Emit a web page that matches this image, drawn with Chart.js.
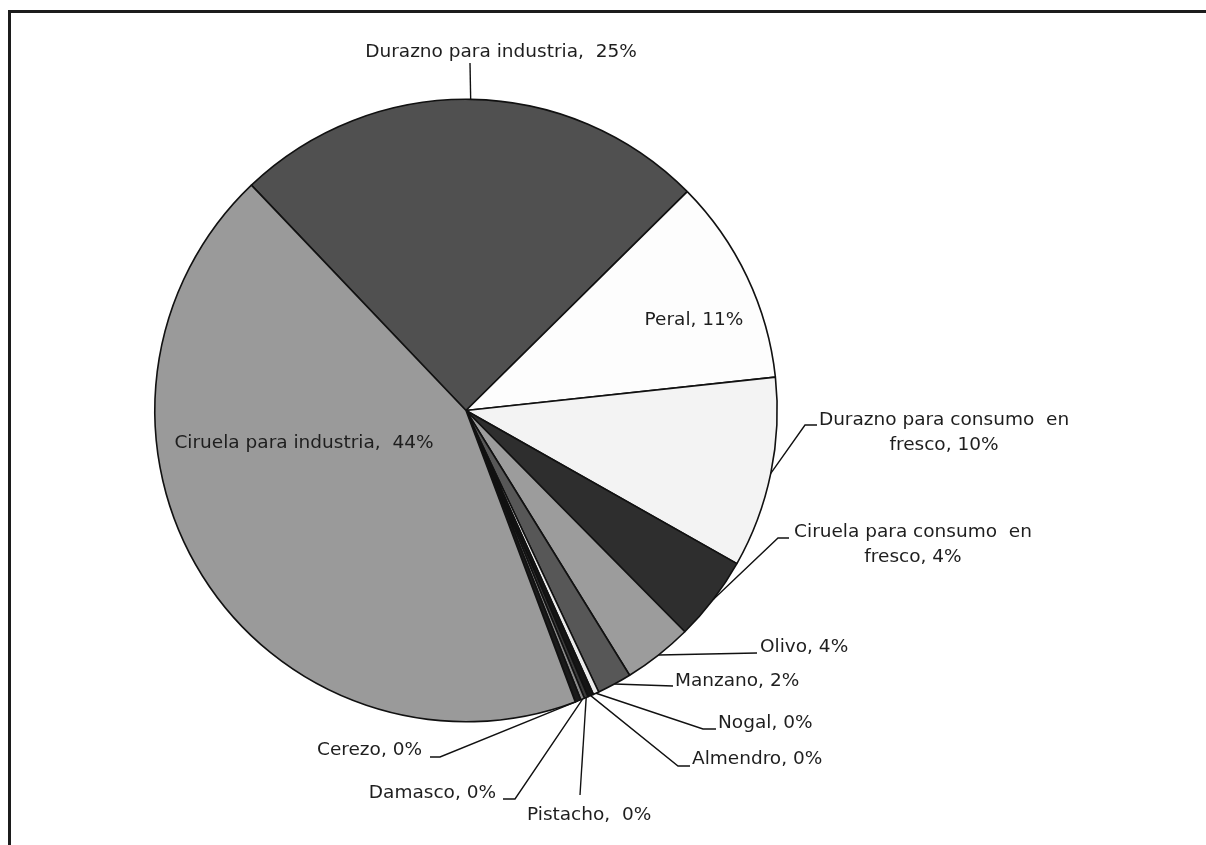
<!DOCTYPE html>
<html>
<head>
<meta charset="utf-8">
<script src="https://cdn.jsdelivr.net/npm/chart.js@4.4.0/dist/chart.umd.min.js"></script>
<style>
  html, body { margin: 0; padding: 0; background: #fff; overflow: hidden; }
  #frame {
    position: absolute; left: 8px; top: 10px; width: 1300px; height: 900px;
    border-left: 3px solid #1c1c1c; border-top: 3px solid #1c1c1c;
  }
  #chart { position: absolute; left: 0; top: 0; }
</style>
</head>
<body>
<div id="frame"></div>
<canvas id="chart" width="1206" height="845"></canvas>
<script>
// Superficie por especie (% del total)
const categories = [
    "Durazno para industria",
    "Peral",
    "Durazno para consumo en fresco",
    "Ciruela para consumo en fresco",
    "Olivo",
    "Manzano",
    "Nogal",
    "Almendro",
    "Pistacho",
    "Damasco",
    "Cerezo",
    "Ciruela para industria",
];
const shares = [24.7, 10.7, 9.9, 4.4, 3.6, 1.8, 0.3, 0.3, 0.2, 0.2, 0.3, 43.6];
const sliceColors = [
    "#505050", "#fdfdfd", "#f3f3f3", "#2e2e2e", "#9c9c9c", "#575757",
    "#ececec", "#151515", "#3a3a3a", "#8a8a8a", "#1a1a1a", "#9a9a9a",
];

const FONT = '18.5px "DejaVu Sans"';
const LINE_H = 25;

// where each label goes; %p is replaced by the rounded share
const labelSpots = [
    { lines: ["Durazno para industria,  %p"], x: 501, y: 52, align: "center", end: [470, 63] },
    { lines: ["Peral, %p"], x: 694, y: 320, align: "center" },
    { lines: ["Durazno para consumo  en", "fresco, %p"], x: 944, y: 420, align: "center", elbow: [805, 425], end: [817, 425] },
    { lines: ["Ciruela para consumo  en", "fresco, %p"], x: 913, y: 532, align: "center", elbow: [778, 538], end: [789, 538] },
    { lines: ["Olivo, %p"], x: 760, y: 647, align: "left", end: [757, 653] },
    { lines: ["Manzano, %p"], x: 675, y: 681, align: "left", end: [673, 686] },
    { lines: ["Nogal, %p"], x: 718, y: 723, align: "left", elbow: [703, 729], end: [716, 729] },
    { lines: ["Almendro, %p"], x: 692, y: 759, align: "left", elbow: [678, 766], end: [690, 766] },
    { lines: ["Pistacho,  %p"], x: 527, y: 815, align: "left", end: [580, 795] },
    { lines: ["Damasco, %p"], x: 496, y: 793, align: "right", elbow: [515, 799], end: [503, 799] },
    { lines: ["Cerezo, %p"], x: 422, y: 750, align: "right", elbow: [440, 757], end: [430, 757] },
    { lines: ["Ciruela para industria,  %p"], x: 304, y: 443, align: "center" },
];

const sliceLabels = {
    id: "sliceLabels",
    afterDatasetsDraw(chart) {
        const ctx = chart.ctx;
        const meta = chart.getDatasetMeta(0);
        ctx.save();
        ctx.font = FONT;
        ctx.fillStyle = "#1e1e1e";
        ctx.strokeStyle = "#111";
        ctx.lineWidth = 1.4;
        ctx.textBaseline = "middle";
        meta.data.forEach((arc, i) => {
            const spot = labelSpots[i];
            const pct = Math.round(shares[i]) + "%";
            if (spot.end) {
                const mid = (arc.startAngle + arc.endAngle) / 2;
                const x0 = arc.x + Math.cos(mid) * arc.outerRadius;
                const y0 = arc.y + Math.sin(mid) * arc.outerRadius;
                ctx.beginPath();
                ctx.moveTo(x0, y0);
                if (spot.elbow) ctx.lineTo(spot.elbow[0], spot.elbow[1]);
                ctx.lineTo(spot.end[0], spot.end[1]);
                ctx.stroke();
            }
            ctx.textAlign = spot.align;
            spot.lines.forEach((ln, k) => {
                ctx.fillText(ln.replace("%p", pct), spot.x, spot.y + k * LINE_H);
            });
        });
        ctx.restore();
    },
};

new Chart(document.getElementById("chart").getContext("2d"), {
    type: "pie",
    data: {
        labels: categories,
        datasets: [
            {
                data: shares,
                backgroundColor: sliceColors,
                borderColor: "#111",
                borderWidth: 1.6,
            },
        ],
    },
    options: {
        responsive: false,
        animation: false,
        rotation: -43.6,
        layout: { padding: { left: 154, top: 98.5, right: 428, bottom: 122.5 } },
        plugins: {
            legend: { display: false },
            tooltip: { enabled: false },
        },
    },
    plugins: [sliceLabels],
});
</script>
</body>
</html>
